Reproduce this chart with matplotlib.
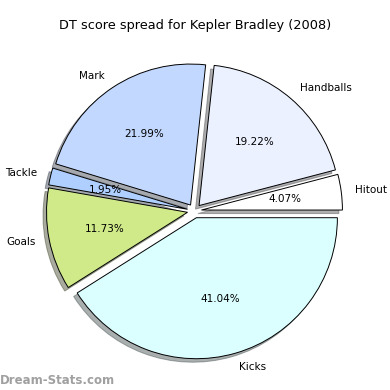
import matplotlib
matplotlib.use("Agg")
import matplotlib.pyplot as plt

labels = ["Hitout", "Handballs", "Mark", "Tackle", "Goals", "Kicks"]
values = [4.07, 19.22, 21.99, 1.95, 11.73, 41.04]
colors = ["#ffffff", "#ebf1ff", "#c3d8ff", "#aecfff", "#d0ea8a", "#dbffff"]
explode = [0.05] * len(values)

fig = plt.figure(figsize=(3.9, 3.9), dpi=100)
ax = fig.add_axes([0, 0, 1, 1])

wedges, texts, autotexts = ax.pie(
    values, labels=labels, colors=colors, explode=explode,
    autopct="%.2f%%", shadow={"ox": -0.018, "oy": -0.018, "alpha": 0.45},
    startangle=0,
    wedgeprops={"edgecolor": "black", "linewidth": 0.7},
    textprops={"fontsize": 7.5},
)

ax.set_xlim(-1.379, 1.387)
ax.set_ylim(-1.270, 1.496)
ax.set_aspect("auto")
ax.axis("off")

fig.text(0.5, 0.935, "DT score spread for Kepler Bradley (2008)",
         ha="center", va="center", fontsize=9.3)
fig.text(0.0, 0.025, "Dream-Stats.com", ha="left", va="center",
         fontsize=8.5, color="#a0a0a0", fontweight="bold")

fig.savefig("out.png", dpi=100)
